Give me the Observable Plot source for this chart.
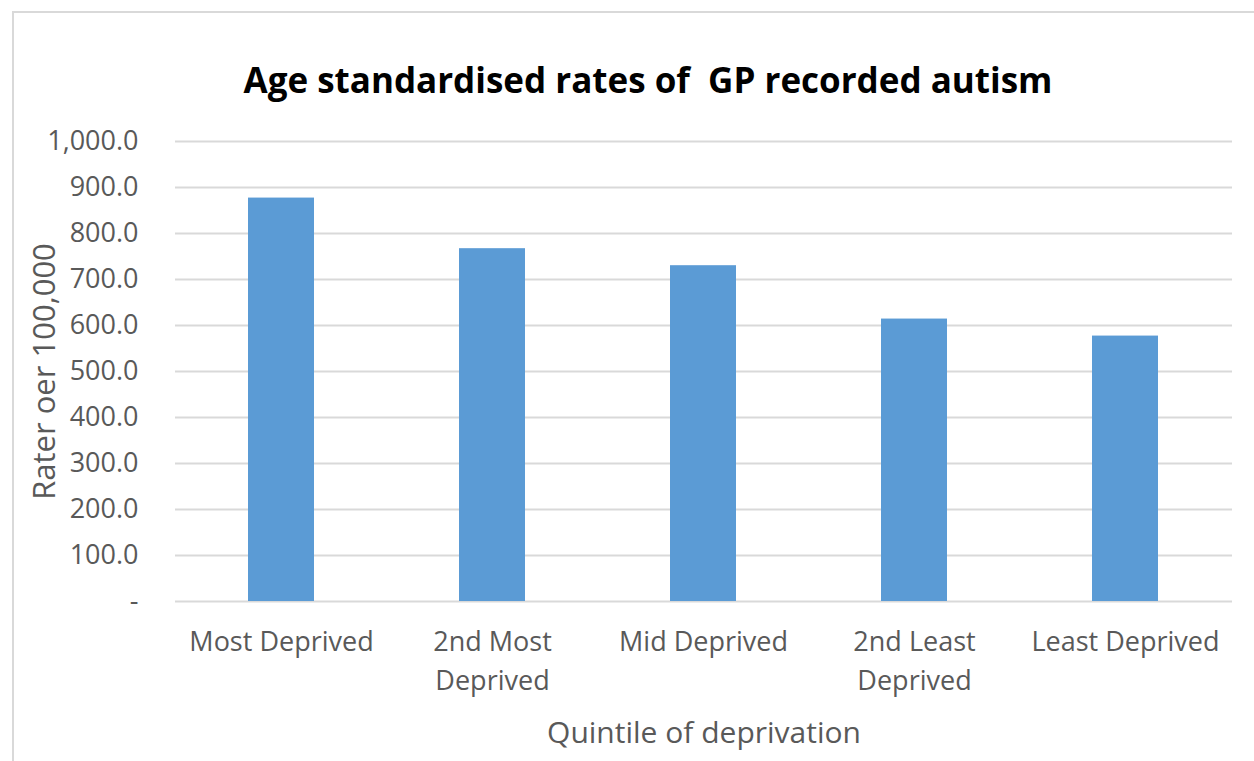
<!DOCTYPE html>
<html>
<head>
<meta charset="utf-8">
<script src="https://cdn.jsdelivr.net/npm/d3@7"></script>
<script src="https://cdn.jsdelivr.net/npm/@observablehq/plot@0.6"></script>
<style>
  html, body { margin: 0; padding: 0; background: #fff; }
  #wrap { position: relative; width: 1254px; height: 761px; overflow: hidden; }
  #frame { position: absolute; left: 12px; top: 11px; width: 1300px; height: 800px; border: 2px solid #d9d9d9; box-sizing: border-box; }
  #title { position: absolute; left: 0; width: 1296px; top: 56px; text-align: center; font-family: "Open Sans", sans-serif; font-weight: bold; font-size: 35px; color: #000; line-height: 48px; white-space: pre; }
  #chart { position: absolute; left: 0; top: 0; }
</style>
</head>
<body>
<div id="wrap">
  <div id="frame"></div>
  <div id="chart"></div>
  <div id="title">Age standardised rates of  GP recorded autism</div>
</div>
<script>
const categories = ["Most Deprived", "2nd Most\nDeprived", "Mid Deprived", "2nd Least\nDeprived", "Least Deprived"];
const rates = [877, 767, 730, 614, 577];
const yTicks = [0, 100, 200, 300, 400, 500, 600, 700, 800, 900, 1000];
const yLabel = "Rater oer 100,000";
const xLabel = "Quintile of deprivation";

const data = categories.map((c, i) => ({category: c, rate: rates[i]}));
const fmt = d3.format(",.1f");
const textColor = "#595959";
const font = "Open Sans, sans-serif";

const chart = Plot.plot({
  width: 1254,
  height: 761,
  marginLeft: 175,
  marginRight: 22,
  marginTop: 141,
  marginBottom: 160,
  style: {fontFamily: font, background: "transparent", overflow: "visible"},
  x: {domain: categories, paddingInner: 0.687, paddingOuter: 0.344, label: null},
  y: {domain: [0, 1000], label: null},
  marks: [
    Plot.gridY(yTicks, {stroke: "#d9d9d9", strokeOpacity: 1, strokeWidth: 2}),
    Plot.barY(data, {x: "category", y: "rate", fill: "#5b9bd5"}),
    Plot.axisY(yTicks, {
      tickSize: 0, tickPadding: 37, fontSize: 27, fill: textColor,
      tickFormat: d => d === 0 ? "-" : fmt(d), label: null
    }),
    Plot.axisX({
      tickSize: 0, tickPadding: 22, fontSize: 27, fill: textColor, lineHeight: 1.45,
      label: null
    }),
    Plot.text([yLabel], {frameAnchor: "left", dx: -130, rotate: -90, textAnchor: "middle", fontSize: 31, fill: textColor, text: d => d}),
    Plot.text([xLabel], {frameAnchor: "bottom", dy: 141, fontSize: 30, fill: textColor, text: d => d})
  ]
});
document.getElementById("chart").appendChild(chart);
</script>
</body>
</html>
